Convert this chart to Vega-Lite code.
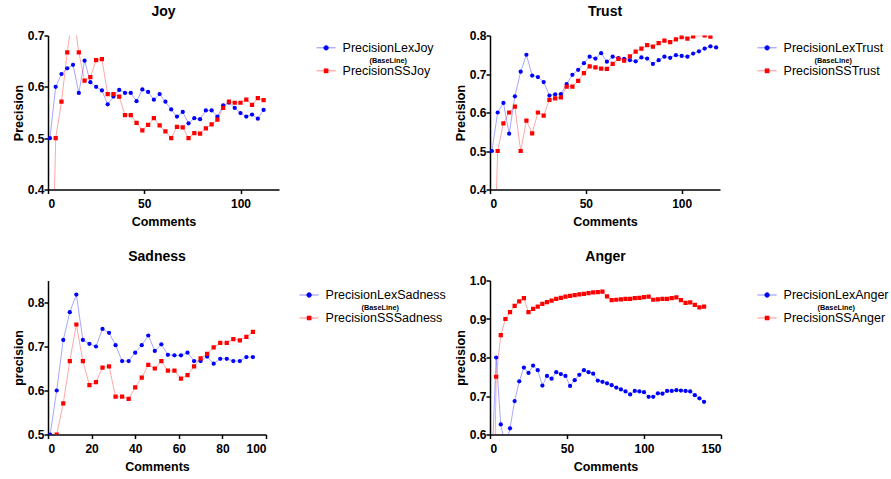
{
  "$schema": "https://vega.github.io/schema/vega-lite/v6.json",
  "background": "white",
  "padding": {"left": 12, "top": 4.5, "right": 5, "bottom": 5},
  "config": {
    "font": "Liberation Sans",
    "view": {"stroke": null},
    "axis": {"domainColor": "black", "domainWidth": 1.5, "tickColor": "black", "tickWidth": 1.5, "tickSize": 4, "labelFont": "Liberation Sans", "labelFontSize": 12, "labelFontWeight": "bold", "labelColor": "black", "titleFont": "Liberation Sans", "titleFontSize": 12.5, "titleFontWeight": "bold", "titleColor": "black", "grid": false},
    "axisY": {"titlePadding": 2, "labelPadding": 0},
    "axisX": {"titlePadding": 6, "labelPadding": 5},
    "title": {"font": "Liberation Sans", "fontSize": 14, "fontWeight": "bold", "color": "black"},
    "legend": {"labelFont": "Liberation Sans", "labelFontSize": 12.5, "labelColor": "black", "symbolSize": 16, "symbolStrokeWidth": 1, "labelOffset": 10, "rowPadding": -6, "title": null}
  },
  "datasets": {
    "joy": [
      {"c":1,"PrecisionLexJoy":0.5,"PrecisionSSJoy":0},
      {"c":4,"PrecisionLexJoy":0.6,"PrecisionSSJoy":0.5},
      {"c":7,"PrecisionLexJoy":0.625,"PrecisionSSJoy":0.571},
      {"c":10,"PrecisionLexJoy":0.636,"PrecisionSSJoy":0.667},
      {"c":13,"PrecisionLexJoy":0.643,"PrecisionSSJoy":0.75},
      {"c":16,"PrecisionLexJoy":0.588,"PrecisionSSJoy":0.667},
      {"c":19,"PrecisionLexJoy":0.651,"PrecisionSSJoy":0.612},
      {"c":22,"PrecisionLexJoy":0.609,"PrecisionSSJoy":0.619},
      {"c":25,"PrecisionLexJoy":0.6,"PrecisionSSJoy":0.652},
      {"c":28,"PrecisionLexJoy":0.593,"PrecisionSSJoy":0.654},
      {"c":31,"PrecisionLexJoy":0.566,"PrecisionSSJoy":0.586},
      {"c":34,"PrecisionLexJoy":0.581,"PrecisionSSJoy":0.586},
      {"c":37,"PrecisionLexJoy":0.594,"PrecisionSSJoy":0.581},
      {"c":40,"PrecisionLexJoy":0.588,"PrecisionSSJoy":0.545},
      {"c":43,"PrecisionLexJoy":0.588,"PrecisionSSJoy":0.545},
      {"c":46,"PrecisionLexJoy":0.572,"PrecisionSSJoy":0.53},
      {"c":49,"PrecisionLexJoy":0.595,"PrecisionSSJoy":0.515},
      {"c":52,"PrecisionLexJoy":0.59,"PrecisionSSJoy":0.526},
      {"c":55,"PrecisionLexJoy":0.575,"PrecisionSSJoy":0.539},
      {"c":58,"PrecisionLexJoy":0.586,"PrecisionSSJoy":0.525},
      {"c":61,"PrecisionLexJoy":0.571,"PrecisionSSJoy":0.513},
      {"c":64,"PrecisionLexJoy":0.556,"PrecisionSSJoy":0.5},
      {"c":67,"PrecisionLexJoy":0.542,"PrecisionSSJoy":0.522},
      {"c":70,"PrecisionLexJoy":0.551,"PrecisionSSJoy":0.521},
      {"c":73,"PrecisionLexJoy":0.529,"PrecisionSSJoy":0.5},
      {"c":76,"PrecisionLexJoy":0.539,"PrecisionSSJoy":0.51},
      {"c":79,"PrecisionLexJoy":0.537,"PrecisionSSJoy":0.509},
      {"c":82,"PrecisionLexJoy":0.554,"PrecisionSSJoy":0.519},
      {"c":85,"PrecisionLexJoy":0.554,"PrecisionSSJoy":0.527},
      {"c":88,"PrecisionLexJoy":0.542,"PrecisionSSJoy":0.536},
      {"c":91,"PrecisionLexJoy":0.564,"PrecisionSSJoy":0.559},
      {"c":94,"PrecisionLexJoy":0.569,"PrecisionSSJoy":0.571},
      {"c":97,"PrecisionLexJoy":0.559,"PrecisionSSJoy":0.569},
      {"c":100,"PrecisionLexJoy":0.549,"PrecisionSSJoy":0.569},
      {"c":103,"PrecisionLexJoy":0.542,"PrecisionSSJoy":0.575},
      {"c":106,"PrecisionLexJoy":0.546,"PrecisionSSJoy":0.565},
      {"c":109,"PrecisionLexJoy":0.538,"PrecisionSSJoy":0.578},
      {"c":112,"PrecisionLexJoy":0.555,"PrecisionSSJoy":0.574}
    ],
    "trust": [
      {"c":1,"PrecisionLexTrust":0.5,"PrecisionSSTrust":0},
      {"c":4,"PrecisionLexTrust":0.6,"PrecisionSSTrust":0.5},
      {"c":7,"PrecisionLexTrust":0.625,"PrecisionSSTrust":0.572},
      {"c":10,"PrecisionLexTrust":0.545,"PrecisionSSTrust":0.6},
      {"c":13,"PrecisionLexTrust":0.642,"PrecisionSSTrust":0.615},
      {"c":16,"PrecisionLexTrust":0.706,"PrecisionSSTrust":0.5},
      {"c":19,"PrecisionLexTrust":0.75,"PrecisionSSTrust":0.579},
      {"c":22,"PrecisionLexTrust":0.696,"PrecisionSSTrust":0.546},
      {"c":25,"PrecisionLexTrust":0.692,"PrecisionSSTrust":0.6},
      {"c":28,"PrecisionLexTrust":0.679,"PrecisionSSTrust":0.592},
      {"c":31,"PrecisionLexTrust":0.644,"PrecisionSSTrust":0.633},
      {"c":34,"PrecisionLexTrust":0.647,"PrecisionSSTrust":0.637},
      {"c":37,"PrecisionLexTrust":0.648,"PrecisionSSTrust":0.639},
      {"c":40,"PrecisionLexTrust":0.674,"PrecisionSSTrust":0.667},
      {"c":43,"PrecisionLexTrust":0.698,"PrecisionSSTrust":0.667},
      {"c":46,"PrecisionLexTrust":0.711,"PrecisionSSTrust":0.682},
      {"c":49,"PrecisionLexTrust":0.728,"PrecisionSSTrust":0.702},
      {"c":52,"PrecisionLexTrust":0.745,"PrecisionSSTrust":0.72},
      {"c":55,"PrecisionLexTrust":0.74,"PrecisionSSTrust":0.717},
      {"c":58,"PrecisionLexTrust":0.754,"PrecisionSSTrust":0.714},
      {"c":61,"PrecisionLexTrust":0.732,"PrecisionSSTrust":0.713},
      {"c":64,"PrecisionLexTrust":0.745,"PrecisionSSTrust":0.726},
      {"c":67,"PrecisionLexTrust":0.741,"PrecisionSSTrust":0.739},
      {"c":70,"PrecisionLexTrust":0.739,"PrecisionSSTrust":0.735},
      {"c":73,"PrecisionLexTrust":0.736,"PrecisionSSTrust":0.746},
      {"c":76,"PrecisionLexTrust":0.733,"PrecisionSSTrust":0.758},
      {"c":79,"PrecisionLexTrust":0.743,"PrecisionSSTrust":0.766},
      {"c":82,"PrecisionLexTrust":0.74,"PrecisionSSTrust":0.775},
      {"c":85,"PrecisionLexTrust":0.726,"PrecisionSSTrust":0.771},
      {"c":88,"PrecisionLexTrust":0.736,"PrecisionSSTrust":0.78},
      {"c":91,"PrecisionLexTrust":0.745,"PrecisionSSTrust":0.787},
      {"c":94,"PrecisionLexTrust":0.742,"PrecisionSSTrust":0.783},
      {"c":97,"PrecisionLexTrust":0.749,"PrecisionSSTrust":0.79},
      {"c":100,"PrecisionLexTrust":0.747,"PrecisionSSTrust":0.796},
      {"c":103,"PrecisionLexTrust":0.745,"PrecisionSSTrust":0.792},
      {"c":106,"PrecisionLexTrust":0.753,"PrecisionSSTrust":0.798},
      {"c":109,"PrecisionLexTrust":0.759,"PrecisionSSTrust":null},
      {"c":112,"PrecisionLexTrust":0.766,"PrecisionSSTrust":0.8},
      {"c":115,"PrecisionLexTrust":0.772,"PrecisionSSTrust":0.797},
      {"c":118,"PrecisionLexTrust":0.769,"PrecisionSSTrust":null}
    ],
    "sadness": [
      {"c":1,"PrecisionLexSadness":0.5,"PrecisionSSSadness":null},
      {"c":4,"PrecisionLexSadness":0.6,"PrecisionSSSadness":0.5},
      {"c":7,"PrecisionLexSadness":0.715,"PrecisionSSSadness":0.571},
      {"c":10,"PrecisionLexSadness":0.778,"PrecisionSSSadness":0.667},
      {"c":13,"PrecisionLexSadness":0.818,"PrecisionSSSadness":0.75},
      {"c":16,"PrecisionLexSadness":0.715,"PrecisionSSSadness":0.667},
      {"c":19,"PrecisionLexSadness":0.706,"PrecisionSSSadness":0.612},
      {"c":22,"PrecisionLexSadness":0.7,"PrecisionSSSadness":0.619},
      {"c":25,"PrecisionLexSadness":0.74,"PrecisionSSSadness":0.652},
      {"c":28,"PrecisionLexSadness":0.731,"PrecisionSSSadness":0.655},
      {"c":31,"PrecisionLexSadness":0.703,"PrecisionSSSadness":0.586},
      {"c":34,"PrecisionLexSadness":0.667,"PrecisionSSSadness":0.586},
      {"c":37,"PrecisionLexSadness":0.667,"PrecisionSSSadness":0.581},
      {"c":40,"PrecisionLexSadness":0.686,"PrecisionSSSadness":0.607},
      {"c":43,"PrecisionLexSadness":0.703,"PrecisionSSSadness":0.629},
      {"c":46,"PrecisionLexSadness":0.725,"PrecisionSSSadness":0.658},
      {"c":49,"PrecisionLexSadness":0.69,"PrecisionSSSadness":0.65},
      {"c":52,"PrecisionLexSadness":0.705,"PrecisionSSSadness":0.667},
      {"c":55,"PrecisionLexSadness":0.681,"PrecisionSSSadness":0.645},
      {"c":58,"PrecisionLexSadness":0.68,"PrecisionSSSadness":0.645},
      {"c":61,"PrecisionLexSadness":0.68,"PrecisionSSSadness":0.627},
      {"c":64,"PrecisionLexSadness":0.686,"PrecisionSSSadness":0.635},
      {"c":67,"PrecisionLexSadness":0.667,"PrecisionSSSadness":0.655},
      {"c":70,"PrecisionLexSadness":0.667,"PrecisionSSSadness":0.673},
      {"c":73,"PrecisionLexSadness":0.677,"PrecisionSSSadness":0.683},
      {"c":76,"PrecisionLexSadness":0.661,"PrecisionSSSadness":0.698},
      {"c":79,"PrecisionLexSadness":0.672,"PrecisionSSSadness":0.708},
      {"c":82,"PrecisionLexSadness":0.672,"PrecisionSSSadness":0.708},
      {"c":85,"PrecisionLexSadness":0.667,"PrecisionSSSadness":0.717},
      {"c":88,"PrecisionLexSadness":0.667,"PrecisionSSSadness":0.714},
      {"c":91,"PrecisionLexSadness":0.676,"PrecisionSSSadness":0.722},
      {"c":94,"PrecisionLexSadness":0.676,"PrecisionSSSadness":0.733}
    ],
    "anger": [
      {"c":1,"PrecisionLexAnger":0.5,"PrecisionSSAnger":0},
      {"c":4,"PrecisionLexAnger":0.8,"PrecisionSSAnger":0.75},
      {"c":7,"PrecisionLexAnger":0.626,"PrecisionSSAnger":0.858},
      {"c":10,"PrecisionLexAnger":0.57,"PrecisionSSAnger":0.9},
      {"c":13,"PrecisionLexAnger":0.616,"PrecisionSSAnger":0.918},
      {"c":16,"PrecisionLexAnger":0.687,"PrecisionSSAnger":0.934},
      {"c":19,"PrecisionLexAnger":0.738,"PrecisionSSAnger":0.946},
      {"c":22,"PrecisionLexAnger":0.774,"PrecisionSSAnger":0.954},
      {"c":25,"PrecisionLexAnger":0.76,"PrecisionSSAnger":0.918},
      {"c":28,"PrecisionLexAnger":0.779,"PrecisionSSAnger":0.926},
      {"c":31,"PrecisionLexAnger":0.767,"PrecisionSSAnger":0.932},
      {"c":34,"PrecisionLexAnger":0.727,"PrecisionSSAnger":0.939},
      {"c":37,"PrecisionLexAnger":0.752,"PrecisionSSAnger":0.944},
      {"c":40,"PrecisionLexAnger":0.745,"PrecisionSSAnger":0.948},
      {"c":43,"PrecisionLexAnger":0.762,"PrecisionSSAnger":0.952},
      {"c":46,"PrecisionLexAnger":0.757,"PrecisionSSAnger":0.955},
      {"c":49,"PrecisionLexAnger":0.752,"PrecisionSSAnger":0.958},
      {"c":52,"PrecisionLexAnger":0.726,"PrecisionSSAnger":0.96},
      {"c":55,"PrecisionLexAnger":0.741,"PrecisionSSAnger":0.962},
      {"c":58,"PrecisionLexAnger":0.755,"PrecisionSSAnger":0.964},
      {"c":61,"PrecisionLexAnger":0.767,"PrecisionSSAnger":0.965},
      {"c":64,"PrecisionLexAnger":0.762,"PrecisionSSAnger":0.967},
      {"c":67,"PrecisionLexAnger":0.758,"PrecisionSSAnger":0.969},
      {"c":70,"PrecisionLexAnger":0.74,"PrecisionSSAnger":0.97},
      {"c":73,"PrecisionLexAnger":0.737,"PrecisionSSAnger":0.971},
      {"c":76,"PrecisionLexAnger":0.733,"PrecisionSSAnger":0.959},
      {"c":79,"PrecisionLexAnger":0.728,"PrecisionSSAnger":0.949},
      {"c":82,"PrecisionLexAnger":0.722,"PrecisionSSAnger":0.95},
      {"c":85,"PrecisionLexAnger":0.717,"PrecisionSSAnger":0.951},
      {"c":88,"PrecisionLexAnger":0.712,"PrecisionSSAnger":0.952},
      {"c":91,"PrecisionLexAnger":0.704,"PrecisionSSAnger":0.952},
      {"c":94,"PrecisionLexAnger":0.713,"PrecisionSSAnger":0.954},
      {"c":97,"PrecisionLexAnger":0.712,"PrecisionSSAnger":0.955},
      {"c":100,"PrecisionLexAnger":0.71,"PrecisionSSAnger":0.957},
      {"c":103,"PrecisionLexAnger":0.698,"PrecisionSSAnger":0.958},
      {"c":106,"PrecisionLexAnger":0.698,"PrecisionSSAnger":0.95},
      {"c":109,"PrecisionLexAnger":0.707,"PrecisionSSAnger":0.951},
      {"c":112,"PrecisionLexAnger":0.706,"PrecisionSSAnger":0.952},
      {"c":115,"PrecisionLexAnger":0.713,"PrecisionSSAnger":0.952},
      {"c":118,"PrecisionLexAnger":0.713,"PrecisionSSAnger":0.954},
      {"c":121,"PrecisionLexAnger":0.715,"PrecisionSSAnger":0.956},
      {"c":124,"PrecisionLexAnger":0.714,"PrecisionSSAnger":0.949},
      {"c":127,"PrecisionLexAnger":0.713,"PrecisionSSAnger":0.942},
      {"c":130,"PrecisionLexAnger":0.712,"PrecisionSSAnger":0.943},
      {"c":133,"PrecisionLexAnger":0.702,"PrecisionSSAnger":0.937},
      {"c":136,"PrecisionLexAnger":0.694,"PrecisionSSAnger":0.93},
      {"c":139,"PrecisionLexAnger":0.685,"PrecisionSSAnger":0.932}
    ]
  },
  "resolve": {"scale": {"color": "independent", "shape": "independent", "stroke": "independent"}, "legend": {"color": "independent", "shape": "independent", "stroke": "independent"}},
  "bounds": "flush",
  "columns": 2,
  "spacing": {"row": 91, "column": 211},
  "concat": [
    {
      "title": {"text": "Joy", "frame": "group", "offset": 11},
      "width": 231, "height": 154,
      "data": {"name": "joy"},
      "transform": [{"fold": ["PrecisionLexJoy", "PrecisionSSJoy"], "as": ["series", "p"]}, {"filter": "isValid(datum.p)"}],
      "encoding": {
        "x": {"field": "c", "type": "quantitative", "scale": {"domain": [0, 120], "nice": false, "zero": false}, "axis": {"title": "Comments", "values": [0, 50, 100]}},
        "y": {"field": "p", "type": "quantitative", "scale": {"domain": [0.4, 0.7], "nice": false, "zero": false}, "axis": {"title": "Precision", "values": [0.4, 0.5, 0.6, 0.7], "format": ".1f"}}
      },
      "layer": [
        {"mark": {"type": "line", "strokeWidth": 1, "opacity": 0.35, "clip": true},
         "encoding": {"stroke": {"field": "series", "type": "nominal", "scale": {"domain": ["PrecisionLexJoy", "PrecisionSSJoy"], "range": ["#0000ff", "#ff0000"]}, "legend": null}}},
        {"mark": {"type": "point", "filled": true, "opacity": 1, "size": 18, "clip": true},
         "encoding": {
           "shape": {"field": "series", "type": "nominal", "scale": {"domain": ["PrecisionLexJoy", "PrecisionSSJoy"], "range": ["circle", "square"]}, "legend": null},
           "color": {"field": "series", "type": "nominal", "scale": {"domain": ["PrecisionLexJoy", "(BaseLine)", "PrecisionSSJoy"], "range": ["#0000ff", "#ffffff", "#ff0000"]},
             "legend": {"orient": "none", "legendX": 271.6, "legendY": 5.8,
               "encoding": {
                 "symbols": {
                   "shape": {"condition": {"test": "indexof(datum.value, 'SS') >= 0", "value": "M-1.6,0H1.6M-0.35,-0.35H0.35V0.35H-0.35Z"}, "value": "M-1.6,0H1.6M0.4,0A0.4,0.4,0,1,1,-0.4,0A0.4,0.4,0,1,1,0.4,0Z"},
                   "size": {"value": 144},
                   "stroke": {"condition": {"test": "indexof(datum.value, 'SS') >= 0", "value": "#ff0000"}, "value": "#0000ff"},
                   "strokeOpacity": {"value": 0.45},
                   "strokeWidth": {"value": 1},
                   "opacity": {"condition": {"test": "datum.value === '(BaseLine)'", "value": 0}, "value": 1}},
                 "labels": {
                   "fontSize": {"condition": {"test": "datum.value === '(BaseLine)'", "value": 7.3}, "value": 12.5},
                   "fontWeight": {"condition": {"test": "datum.value === '(BaseLine)'", "value": "bold"}, "value": "normal"},
                   "dx": {"condition": {"test": "datum.value === '(BaseLine)'", "value": 27}, "value": 0}}}}}}}
      ]
    },
    {
      "title": {"text": "Trust", "frame": "group", "offset": 11},
      "width": 230, "height": 154,
      "data": {"name": "trust"},
      "transform": [{"fold": ["PrecisionLexTrust", "PrecisionSSTrust"], "as": ["series", "p"]}, {"filter": "isValid(datum.p)"}],
      "encoding": {
        "x": {"field": "c", "type": "quantitative", "scale": {"domain": [0, 120], "nice": false, "zero": false}, "axis": {"title": "Comments", "values": [0, 50, 100]}},
        "y": {"field": "p", "type": "quantitative", "scale": {"domain": [0.4, 0.8], "nice": false, "zero": false}, "axis": {"title": "Precision", "values": [0.4, 0.5, 0.6, 0.7, 0.8], "format": ".1f"}}
      },
      "layer": [
        {"mark": {"type": "line", "strokeWidth": 1, "opacity": 0.35, "clip": true},
         "encoding": {"stroke": {"field": "series", "type": "nominal", "scale": {"domain": ["PrecisionLexTrust", "PrecisionSSTrust"], "range": ["#0000ff", "#ff0000"]}, "legend": null}}},
        {"mark": {"type": "point", "filled": true, "opacity": 1, "size": 18, "clip": true},
         "encoding": {
           "shape": {"field": "series", "type": "nominal", "scale": {"domain": ["PrecisionLexTrust", "PrecisionSSTrust"], "range": ["circle", "square"]}, "legend": null},
           "color": {"field": "series", "type": "nominal", "scale": {"domain": ["PrecisionLexTrust", "(BaseLine)", "PrecisionSSTrust"], "range": ["#0000ff", "#ffffff", "#ff0000"]},
             "legend": {"orient": "none", "legendX": 270.6, "legendY": 5.8,
               "encoding": {
                 "symbols": {
                   "shape": {"condition": {"test": "indexof(datum.value, 'SS') >= 0", "value": "M-1.6,0H1.6M-0.35,-0.35H0.35V0.35H-0.35Z"}, "value": "M-1.6,0H1.6M0.4,0A0.4,0.4,0,1,1,-0.4,0A0.4,0.4,0,1,1,0.4,0Z"},
                   "size": {"value": 144},
                   "stroke": {"condition": {"test": "indexof(datum.value, 'SS') >= 0", "value": "#ff0000"}, "value": "#0000ff"},
                   "strokeOpacity": {"value": 0.45},
                   "strokeWidth": {"value": 1},
                   "opacity": {"condition": {"test": "datum.value === '(BaseLine)'", "value": 0}, "value": 1}},
                 "labels": {
                   "fontSize": {"condition": {"test": "datum.value === '(BaseLine)'", "value": 7.3}, "value": 12.5},
                   "fontWeight": {"condition": {"test": "datum.value === '(BaseLine)'", "value": "bold"}, "value": "normal"},
                   "dx": {"condition": {"test": "datum.value === '(BaseLine)'", "value": 31}, "value": 0}}}}}}}
      ]
    },
    {
      "title": {"text": "Sadness", "frame": "group", "offset": 17},
      "width": 218, "height": 154,
      "data": {"name": "sadness"},
      "transform": [{"fold": ["PrecisionLexSadness", "PrecisionSSSadness"], "as": ["series", "p"]}, {"filter": "isValid(datum.p)"}],
      "encoding": {
        "x": {"field": "c", "type": "quantitative", "scale": {"domain": [0, 100], "nice": false, "zero": false}, "axis": {"title": "Comments", "values": [0, 20, 40, 60, 80, 100]}},
        "y": {"field": "p", "type": "quantitative", "scale": {"domain": [0.5, 0.85], "nice": false, "zero": false}, "axis": {"title": "precision", "values": [0.5, 0.6, 0.7, 0.8], "format": ".1f"}}
      },
      "layer": [
        {"mark": {"type": "line", "strokeWidth": 1, "opacity": 0.35, "clip": true},
         "encoding": {"stroke": {"field": "series", "type": "nominal", "scale": {"domain": ["PrecisionLexSadness", "PrecisionSSSadness"], "range": ["#0000ff", "#ff0000"]}, "legend": null}}},
        {"mark": {"type": "point", "filled": true, "opacity": 1, "size": 18, "clip": true},
         "encoding": {
           "shape": {"field": "series", "type": "nominal", "scale": {"domain": ["PrecisionLexSadness", "PrecisionSSSadness"], "range": ["circle", "square"]}, "legend": null},
           "color": {"field": "series", "type": "nominal", "scale": {"domain": ["PrecisionLexSadness", "(BaseLine)", "PrecisionSSSadness"], "range": ["#0000ff", "#ffffff", "#ff0000"]},
             "legend": {"orient": "none", "legendX": 254.6, "legendY": 8,
               "encoding": {
                 "symbols": {
                   "shape": {"condition": {"test": "indexof(datum.value, 'SS') >= 0", "value": "M-1.6,0H1.6M-0.35,-0.35H0.35V0.35H-0.35Z"}, "value": "M-1.6,0H1.6M0.4,0A0.4,0.4,0,1,1,-0.4,0A0.4,0.4,0,1,1,0.4,0Z"},
                   "size": {"value": 144},
                   "stroke": {"condition": {"test": "indexof(datum.value, 'SS') >= 0", "value": "#ff0000"}, "value": "#0000ff"},
                   "strokeOpacity": {"value": 0.45},
                   "strokeWidth": {"value": 1},
                   "opacity": {"condition": {"test": "datum.value === '(BaseLine)'", "value": 0}, "value": 1}},
                 "labels": {
                   "fontSize": {"condition": {"test": "datum.value === '(BaseLine)'", "value": 7.3}, "value": 12.5},
                   "fontWeight": {"condition": {"test": "datum.value === '(BaseLine)'", "value": "bold"}, "value": "normal"},
                   "dx": {"condition": {"test": "datum.value === '(BaseLine)'", "value": 36}, "value": 0}}}}}}}
      ]
    },
    {
      "title": {"text": "Anger", "frame": "group", "offset": 11},
      "width": 231, "height": 154,
      "data": {"name": "anger"},
      "transform": [{"fold": ["PrecisionLexAnger", "PrecisionSSAnger"], "as": ["series", "p"]}, {"filter": "isValid(datum.p)"}],
      "encoding": {
        "x": {"field": "c", "type": "quantitative", "scale": {"domain": [0, 150], "nice": false, "zero": false}, "axis": {"title": "Comments", "values": [0, 50, 100, 150]}},
        "y": {"field": "p", "type": "quantitative", "scale": {"domain": [0.6, 1.0], "nice": false, "zero": false}, "axis": {"title": "precision", "values": [0.6, 0.7, 0.8, 0.9, 1.0], "format": ".1f"}}
      },
      "layer": [
        {"mark": {"type": "line", "strokeWidth": 1, "opacity": 0.35, "clip": true},
         "encoding": {"stroke": {"field": "series", "type": "nominal", "scale": {"domain": ["PrecisionLexAnger", "PrecisionSSAnger"], "range": ["#0000ff", "#ff0000"]}, "legend": null}}},
        {"mark": {"type": "point", "filled": true, "opacity": 1, "size": 18, "clip": true},
         "encoding": {
           "shape": {"field": "series", "type": "nominal", "scale": {"domain": ["PrecisionLexAnger", "PrecisionSSAnger"], "range": ["circle", "square"]}, "legend": null},
           "color": {"field": "series", "type": "nominal", "scale": {"domain": ["PrecisionLexAnger", "(BaseLine)", "PrecisionSSAnger"], "range": ["#0000ff", "#ffffff", "#ff0000"]},
             "legend": {"orient": "none", "legendX": 270.6, "legendY": 8,
               "encoding": {
                 "symbols": {
                   "shape": {"condition": {"test": "indexof(datum.value, 'SS') >= 0", "value": "M-1.6,0H1.6M-0.35,-0.35H0.35V0.35H-0.35Z"}, "value": "M-1.6,0H1.6M0.4,0A0.4,0.4,0,1,1,-0.4,0A0.4,0.4,0,1,1,0.4,0Z"},
                   "size": {"value": 144},
                   "stroke": {"condition": {"test": "indexof(datum.value, 'SS') >= 0", "value": "#ff0000"}, "value": "#0000ff"},
                   "strokeOpacity": {"value": 0.45},
                   "strokeWidth": {"value": 1},
                   "opacity": {"condition": {"test": "datum.value === '(BaseLine)'", "value": 0}, "value": 1}},
                 "labels": {
                   "fontSize": {"condition": {"test": "datum.value === '(BaseLine)'", "value": 7.3}, "value": 12.5},
                   "fontWeight": {"condition": {"test": "datum.value === '(BaseLine)'", "value": "bold"}, "value": "normal"},
                   "dx": {"condition": {"test": "datum.value === '(BaseLine)'", "value": 34}, "value": 0}}}}}}}
      ]
    }
  ]
}
